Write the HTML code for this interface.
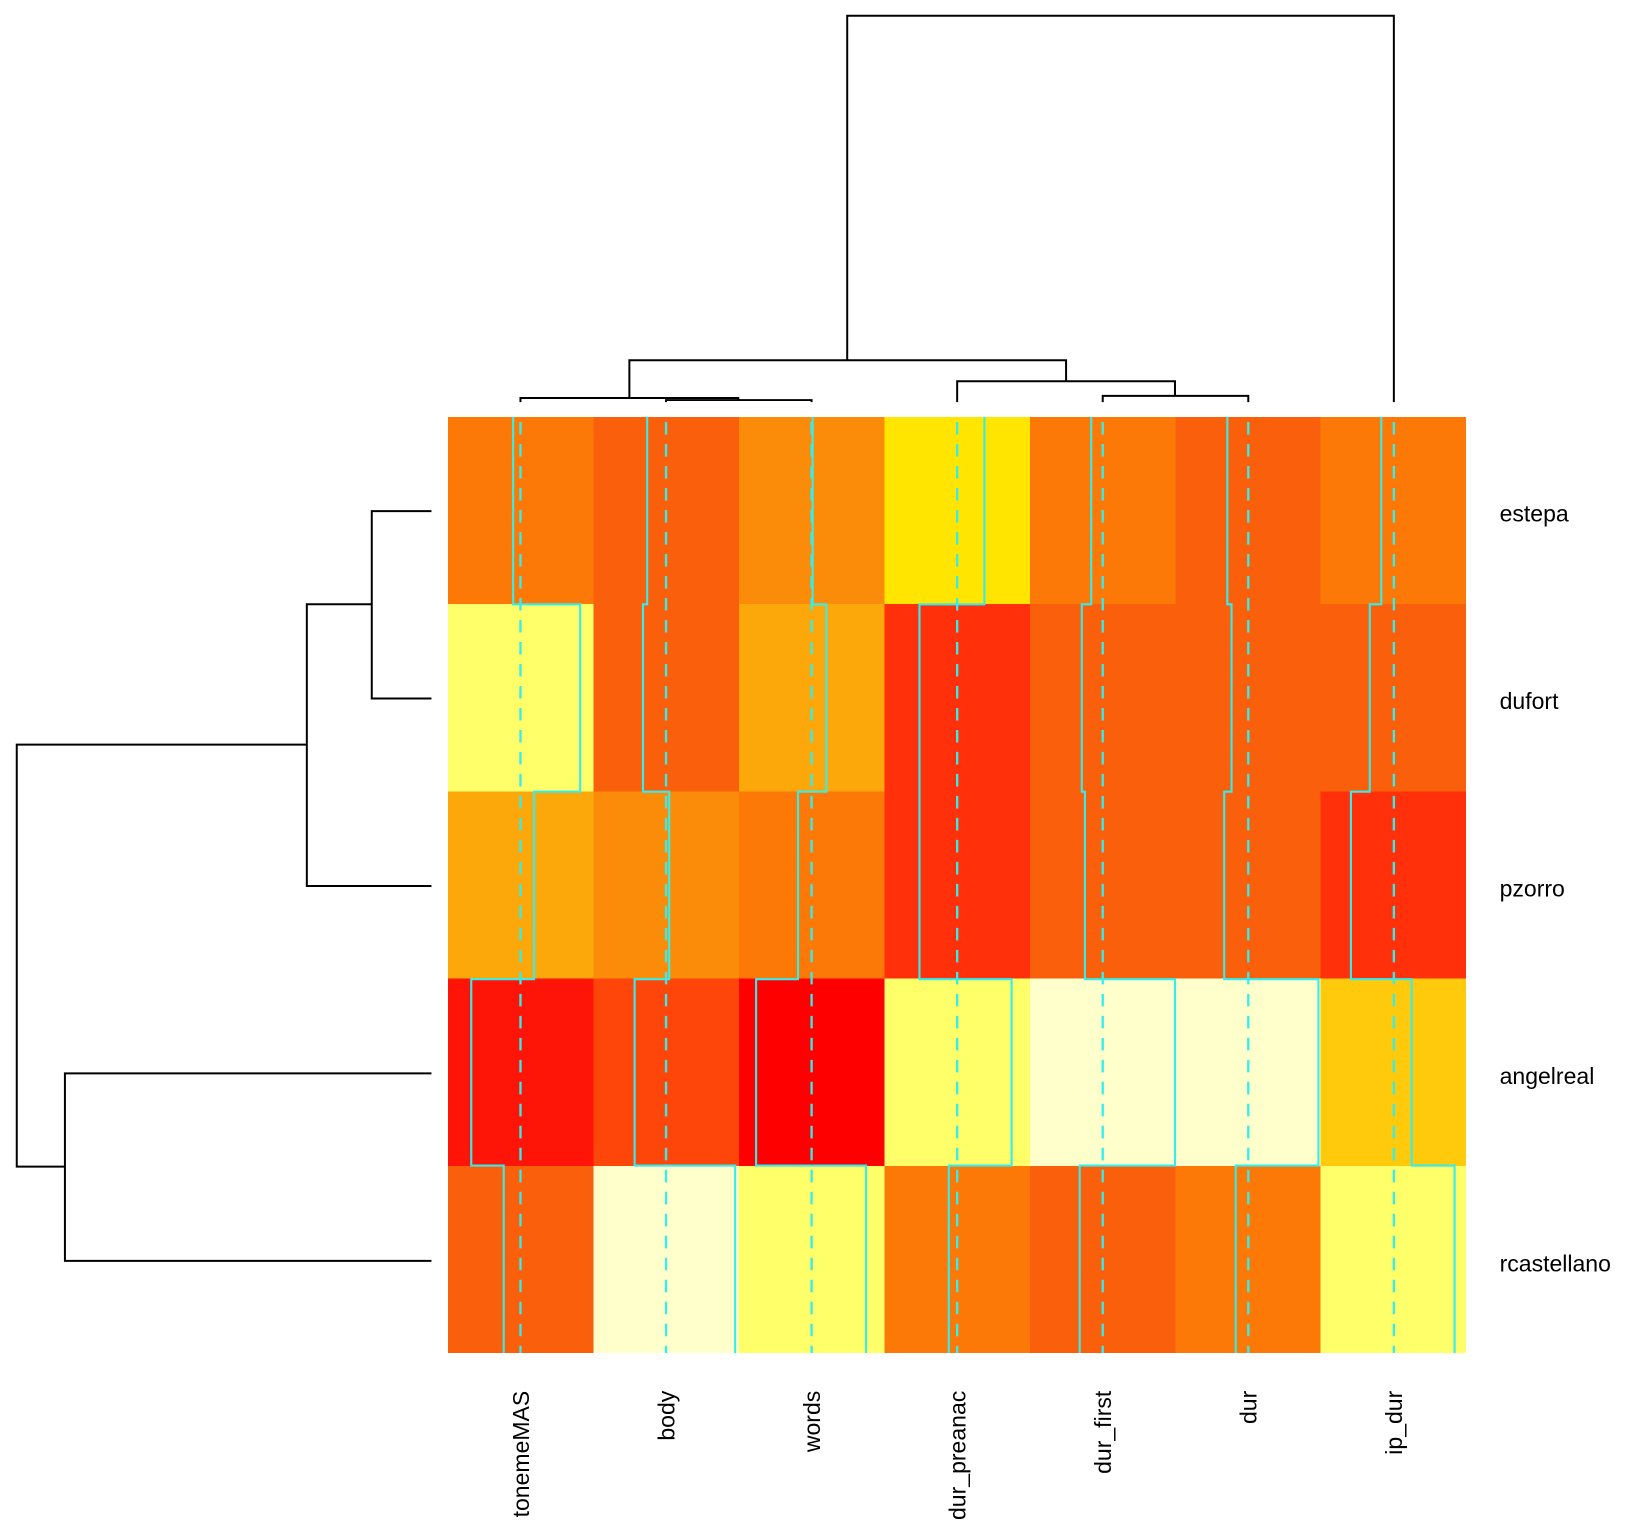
<!DOCTYPE html>
<html><head><meta charset="utf-8"><style>html,body{margin:0;padding:0;background:#fff}svg{display:block}</style></head>
<body>
<svg width="1641" height="1529" viewBox="0 0 1567 1460" xmlns="http://www.w3.org/2000/svg" font-family="Liberation Sans, Arial, sans-serif">
<g shape-rendering="crispEdges">
<rect x="428" y="398" width="139.9" height="179.8" fill="#FC7908"/>
<rect x="566.9" y="398" width="139.9" height="179.8" fill="#FA5F0C"/>
<rect x="705.7" y="398" width="139.9" height="179.8" fill="#FB8C0A"/>
<rect x="844.6" y="398" width="139.9" height="179.8" fill="#FFE500"/>
<rect x="983.4" y="398" width="139.9" height="179.8" fill="#FC7908"/>
<rect x="1122.3" y="398" width="139.9" height="179.8" fill="#FA5F0C"/>
<rect x="1261.1" y="398" width="138.9" height="179.8" fill="#FC7908"/>
<rect x="428" y="576.8" width="139.9" height="179.8" fill="#FFFF6A"/>
<rect x="566.9" y="576.8" width="139.9" height="179.8" fill="#FA5F0C"/>
<rect x="705.7" y="576.8" width="139.9" height="179.8" fill="#FCA80B"/>
<rect x="844.6" y="576.8" width="139.9" height="179.8" fill="#FF300A"/>
<rect x="983.4" y="576.8" width="139.9" height="179.8" fill="#FA5F0C"/>
<rect x="1122.3" y="576.8" width="139.9" height="179.8" fill="#FA5F0C"/>
<rect x="1261.1" y="576.8" width="138.9" height="179.8" fill="#FA5F0C"/>
<rect x="428" y="755.6" width="139.9" height="179.8" fill="#FCA80B"/>
<rect x="566.9" y="755.6" width="139.9" height="179.8" fill="#FB8C0A"/>
<rect x="705.7" y="755.6" width="139.9" height="179.8" fill="#FC7908"/>
<rect x="844.6" y="755.6" width="139.9" height="179.8" fill="#FF300A"/>
<rect x="983.4" y="755.6" width="139.9" height="179.8" fill="#FA5F0C"/>
<rect x="1122.3" y="755.6" width="139.9" height="179.8" fill="#FA5F0C"/>
<rect x="1261.1" y="755.6" width="138.9" height="179.8" fill="#FF300A"/>
<rect x="428" y="934.4" width="139.9" height="179.8" fill="#FF1408"/>
<rect x="566.9" y="934.4" width="139.9" height="179.8" fill="#FF460A"/>
<rect x="705.7" y="934.4" width="139.9" height="179.8" fill="#FF0000"/>
<rect x="844.6" y="934.4" width="139.9" height="179.8" fill="#FFFF6A"/>
<rect x="983.4" y="934.4" width="139.9" height="179.8" fill="#FFFFCC"/>
<rect x="1122.3" y="934.4" width="139.9" height="179.8" fill="#FFFFCC"/>
<rect x="1261.1" y="934.4" width="138.9" height="179.8" fill="#FFC90C"/>
<rect x="428" y="1113.2" width="139.9" height="178.8" fill="#FA5F0C"/>
<rect x="566.9" y="1113.2" width="139.9" height="178.8" fill="#FFFFCC"/>
<rect x="705.7" y="1113.2" width="139.9" height="178.8" fill="#FFFF6A"/>
<rect x="844.6" y="1113.2" width="139.9" height="178.8" fill="#FC7908"/>
<rect x="983.4" y="1113.2" width="139.9" height="178.8" fill="#FA5F0C"/>
<rect x="1122.3" y="1113.2" width="139.9" height="178.8" fill="#FC7908"/>
<rect x="1261.1" y="1113.2" width="138.9" height="178.8" fill="#FFFF6A"/>
</g>
<g stroke="#33EEEE" stroke-width="2.2" stroke-dasharray="12,9" fill="none">
<line x1="497" y1="403" x2="497" y2="1292"/>
<line x1="636" y1="403" x2="636" y2="1292"/>
<line x1="775" y1="403" x2="775" y2="1292"/>
<line x1="914" y1="403" x2="914" y2="1292"/>
<line x1="1053" y1="403" x2="1053" y2="1292"/>
<line x1="1192" y1="403" x2="1192" y2="1292"/>
<line x1="1331" y1="403" x2="1331" y2="1292"/>
</g>
<g stroke="#33EEEE" stroke-width="2" fill="none">
<polyline points="490,398 490,577 554,577 554,756 510,756 510,935 450,935 450,1113 481,1113 481,1292"/>
<polyline points="618,398 618,577 614,577 614,756 639,756 639,935 606,935 606,1113 702,1113 702,1292"/>
<polyline points="776,398 776,577 789,577 789,756 762,756 762,935 722,935 722,1113 827,1113 827,1292"/>
<polyline points="940,398 940,577 878,577 878,756 878,756 878,935 966,935 966,1113 906,1113 906,1292"/>
<polyline points="1042,398 1042,577 1033,577 1033,756 1036,756 1036,935 1122,935 1122,1113 1031,1113 1031,1292"/>
<polyline points="1172,398 1172,577 1176,577 1176,756 1169,756 1169,935 1259,935 1259,1113 1180,1113 1180,1292"/>
<polyline points="1319,398 1319,577 1308,577 1308,756 1290,756 1290,935 1348,935 1348,1113 1389,1113 1389,1292"/>
</g>
<g stroke="#000" stroke-width="1.9" fill="none">
<polyline points="636,384 636,382 775,382 775,384"/>
<polyline points="497,384 497,380 705,380 705,382"/>
<polyline points="1053,384 1053,378 1192,378 1192,384"/>
<polyline points="914,384 914,364 1122,364 1122,378"/>
<polyline points="601,380 601,344 1018,344 1018,364"/>
<polyline points="809,344 809,15 1331,15 1331,384"/>
</g>
<g stroke="#000" stroke-width="1.9" fill="none">
<polyline points="412,488 355,488 355,667 412,667"/>
<polyline points="355,577 293,577 293,846 412,846"/>
<polyline points="412,1025 62,1025 62,1204 412,1204"/>
<polyline points="293,711 16,711 16,1114 62,1114"/>
</g>
<g font-size="22" fill="#000">
<text x="1432" y="498">estepa</text>
<text x="1432" y="677">dufort</text>
<text x="1432" y="856">pzorro</text>
<text x="1432" y="1035">angelreal</text>
<text x="1432" y="1214">rcastellano</text>
</g>
<g font-size="22" fill="#000" text-anchor="end">
<text transform="translate(505,1328) rotate(-90)">tonemeMAS</text>
<text transform="translate(644,1328) rotate(-90)">body</text>
<text transform="translate(783,1328) rotate(-90)">words</text>
<text transform="translate(922,1328) rotate(-90)">dur_preanac</text>
<text transform="translate(1061,1328) rotate(-90)">dur_first</text>
<text transform="translate(1200,1328) rotate(-90)">dur</text>
<text transform="translate(1339,1328) rotate(-90)">ip_dur</text>
</g>
</svg>
</body></html>
